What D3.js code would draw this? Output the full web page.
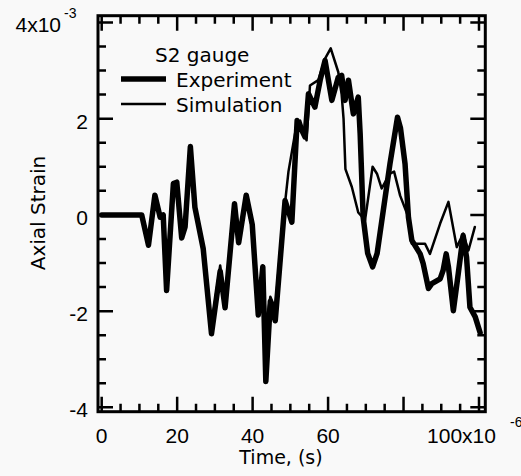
<!DOCTYPE html>
<html>
<head>
<meta charset="utf-8">
<script src="https://cdn.jsdelivr.net/npm/d3@7"></script>
<style>
  body { margin: 0; background: #f9f9f9; }
  svg { display: block; }
</style>
</head>
<body>
<script>
// time in microseconds, strain in units of 1e-3
const expTime = [0, 10.6, 12.4, 14.1, 15.5, 16.3, 17.2, 19.0, 19.9, 21.2, 22.1, 23.5, 24.7, 26.9, 29.1,
  31.4, 32.7, 35.2, 36.3, 38.3, 39.9, 41.5, 42.7, 43.5, 44.7, 46.0, 48.6, 50.4, 51.8, 53.9, 54.8,
  56.5, 57.9, 59.2, 61.0, 62.7, 63.6, 64.5, 65.4, 66.7, 68.0, 68.5, 69.3, 70.5, 71.8, 73.0, 76.4,
  78.4, 79.2, 80.4, 81.3, 82.2, 84.4, 85.2, 86.6, 87.5, 89.7, 90.5, 91.3, 91.9, 93.2, 94.5, 95.8,
  96.7, 97.6, 99.0, 100.3];
const expStrain = [0, 0, -0.63, 0.41, -0.05, 0.0, -1.57, 0.65, 0.68, -0.48, -0.25, 1.42, 0.16, -0.7, -2.47,
  -1.17, -1.93, 0.23, -0.58, 0.41, -0.2, -2.08, -1.08, -3.46, -1.8, -2.2, 0.3, -0.15, 1.96, 1.62, 2.52,
  2.24, 2.8, 3.21, 2.38, 2.86, 2.9, 2.38, 2.8, 2.1, 2.45, 1.69, -0.05, -0.8, -1.08, -0.8, 1.06,
  2.03, 1.8, 1.06, -0.05, -0.53, -0.81, -1.01, -1.53, -1.43, -1.33, -1.15, -0.81, -1.08, -1.99, -1.22, -0.43,
  -0.88, -1.92, -2.12, -2.45];

const simTime = [0, 10.6, 12.4, 14.1, 15.5, 16.4, 17.2, 19.0, 19.9, 21.2, 22.1, 23.5, 24.7, 26.9, 29.1,
  31.4, 32.7, 35.2, 36.3, 38.3, 39.9, 41.5, 42.7, 43.5, 44.7, 46.0, 47.7, 49.5, 51.7, 52.6, 54.3,
  55.2, 57.4, 59.2, 60.7, 62.7, 63.6, 64.1, 64.6, 66.3, 68.0, 69.8, 71.8, 73.0, 74.2, 76.4, 77.5,
  79.1, 81.3, 82.2, 85.7, 87.0, 89.7, 91.9, 94.1, 95.8, 97.2, 98.9];
const simStrain = [0, 0, -0.55, 0.38, 0.0, -0.1, -1.45, 0.6, 0.62, -0.42, -0.2, 1.35, 0.2, -0.62, -2.3,
  -1.05, -1.75, 0.2, -0.5, 0.35, -0.3, -1.9, -1.05, -2.3, -1.7, -1.95, -0.39, 0.9, 1.9, 1.96, 1.55,
  2.69, 2.8, 3.25, 3.46, 2.97, 2.5, 2.0, 0.95, 0.58, 0.05, -0.11, 1.0, 0.85, 0.55, 0.86, 0.9,
  0.4, -0.05, -0.6, -0.6, -0.81, -0.18, 0.27, -0.67, -0.39, -0.74, -0.25];

const xTickValues = [0, 20, 40, 60, 100];
const xTickLabels = ['0', '20', '40', '60', '100x10'];
const xExponent = '-6';
const yTickValues = [-4, -2, 0, 2, 4];
const yTickLabels = ['-4', '-2', '0', '2', '4x10'];
const yExponent = '-3';

const legendTitle = 'S2 gauge';
const seriesNames = ['Experiment', 'Simulation'];

const svgWidth = 521;
const svgHeight = 476;
const margin = { left: 98, top: 15.7, right: 521 - 485.3, bottom: 476 - 411.7 };
const width = svgWidth - margin.left - margin.right;
const height = svgHeight - margin.top - margin.bottom;

const svg = d3.select('body').append('svg')
  .attr('width', svgWidth)
  .attr('height', svgHeight);

const g = svg.append('g').attr('transform', `translate(${margin.left}, ${margin.top})`);

const x = d3.scaleLinear().domain([-0.98, 101.67]).range([0, width]);
const y = d3.scaleLinear().domain([-4.09, 4.14]).range([height, 0]);

const majorLen = 15;
const minorLen = 8;
const xMajor = [0, 20, 40, 60, 80, 100];
const xMinor = [5, 10, 15, 25, 30, 35, 45, 50, 55, 65, 70, 75, 85, 90, 95];
const yMajor = [-4, -2, 0, 2, 4];
const yMinor = [-3.5, -3, -2.5, -1.5, -1, -0.5, 0.5, 1, 1.5, 2.5, 3, 3.5];

// frame
g.append('rect')
  .attr('width', width).attr('height', height)
  .attr('fill', 'none').attr('stroke', '#000').attr('stroke-width', 3);

// inward ticks on all four sides, drawn as one path
const tickPath = d3.path();
xMajor.concat(xMinor).forEach((v) => {
  const len = xMajor.includes(v) ? majorLen : minorLen;
  tickPath.moveTo(x(v), height); tickPath.lineTo(x(v), height - len);
  tickPath.moveTo(x(v), 0); tickPath.lineTo(x(v), len);
});
yMajor.concat(yMinor).forEach((v) => {
  const len = yMajor.includes(v) ? majorLen : minorLen;
  tickPath.moveTo(0, y(v)); tickPath.lineTo(len, y(v));
  tickPath.moveTo(width, y(v)); tickPath.lineTo(width - len, y(v));
});
g.append('path')
  .attr('d', tickPath.toString())
  .attr('fill', 'none').attr('stroke', '#000').attr('stroke-width', 2.5);

// data lines
const line = d3.line().x((d) => x(d[0])).y((d) => y(d[1]));
const expData = expTime.map((t, i) => [t, expStrain[i]]);
const simData = simTime.map((t, i) => [t, simStrain[i]]);

g.append('path').datum(simData)
  .attr('d', line)
  .attr('fill', 'none').attr('stroke', '#000').attr('stroke-width', 2.5)
  .attr('stroke-linejoin', 'round').attr('stroke-linecap', 'round');
g.append('path').datum(expData)
  .attr('d', line)
  .attr('fill', 'none').attr('stroke', '#000').attr('stroke-width', 5.5)
  .attr('stroke-linejoin', 'round').attr('stroke-linecap', 'round');

// tick labels
const numFont = '"Liberation Sans", Arial, sans-serif';
const wordFont = '"DejaVu Sans", sans-serif';

const xl = g.append('g').attr('font-family', numFont).attr('font-size', 21).attr('fill', '#000');
xTickValues.forEach((v, i) => {
  const last = i === xTickValues.length - 1;
  xl.append('text')
    .attr('x', last ? x(v) + 17 : x(v))
    .attr('y', height + 31)
    .attr('text-anchor', last ? 'end' : 'middle')
    .text(xTickLabels[i]);
  if (last) {
    xl.append('text')
      .attr('x', x(v) + 31).attr('y', height + 15)
      .attr('font-size', 14)
      .text(xExponent);
  }
});

const yl = g.append('g').attr('font-family', numFont).attr('font-size', 21).attr('fill', '#000');
yTickValues.forEach((v, i) => {
  const last = i === yTickValues.length - 1;
  yl.append('text')
    .attr('x', last ? -37 : -10)
    .attr('y', y(v) + 10)
    .attr('text-anchor', 'end')
    .text(yTickLabels[i]);
  if (last) {
    yl.append('text')
      .attr('x', -34).attr('y', y(v) - 4)
      .attr('font-size', 14)
      .text(yExponent);
  }
});

// axis titles
svg.append('text')
  .attr('transform', 'translate(45, 213) rotate(-90)')
  .attr('text-anchor', 'middle')
  .attr('font-family', wordFont).attr('font-size', 20)
  .text('Axial Strain');

svg.append('text')
  .attr('x', 281).attr('y', 464)
  .attr('text-anchor', 'middle')
  .attr('font-family', wordFont).attr('font-size', 19)
  .text('Time, (s)');

// legend
const legend = svg.append('g').attr('font-family', wordFont).attr('font-size', 20);
legend.append('text').attr('x', 155).attr('y', 61.5).text(legendTitle);
const legendWidths = [5.5, 2.5];
seriesNames.forEach((name, i) => {
  const ly = 79 + i * 25;
  legend.append('line')
    .attr('x1', 121).attr('x2', 166).attr('y1', ly).attr('y2', ly)
    .attr('stroke', '#000').attr('stroke-width', legendWidths[i]);
  legend.append('text').attr('x', 176).attr('y', ly + 8).text(name);
});
</script>
</body>
</html>
